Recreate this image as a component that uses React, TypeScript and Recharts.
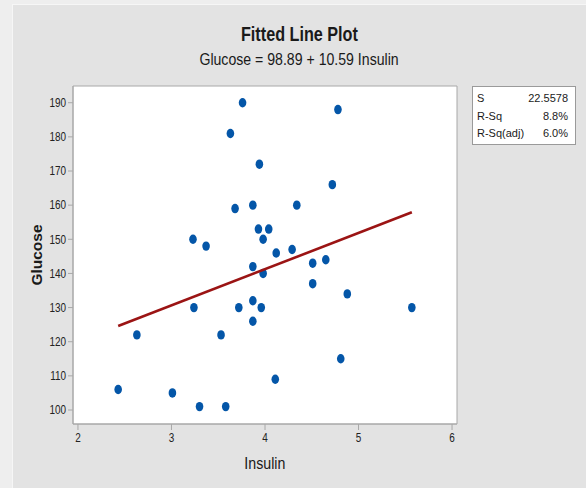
import React from "react";
import {
  ScatterChart,
  Scatter,
  XAxis,
  YAxis,
  CartesianGrid,
  ReferenceArea,
} from "recharts";

const insulin = [
  2.43, 2.63, 3.01, 3.23, 3.24, 3.3, 3.37, 3.53, 3.58, 3.63, 3.68, 3.72, 3.76,
  3.87, 3.87, 3.87, 3.87, 3.93, 3.94, 3.96, 3.98, 3.98, 4.04, 4.12, 4.11, 4.29,
  4.34, 4.51, 4.51, 4.65, 4.72, 4.78, 4.81, 4.88, 5.57,
];
const glucose = [
  106, 122, 105, 150, 130, 101, 148, 122, 101, 181, 159, 130, 190, 160, 142,
  132, 126, 153, 172, 130, 140, 150, 153, 146, 109, 147, 160, 143, 137, 144,
  166, 188, 115, 134, 130,
];

// fitted line end points
const fitX = [2.43, 5.57];
const fitY = [124.6, 157.9];

const xTicks = [2, 3, 4, 5, 6];
const yTicks = [100, 110, 120, 130, 140, 150, 160, 170, 180, 190];
const xDomain = [1.947, 6.053];
const yDomain = [95.9, 194.9];

const stats = [
  ["S", "22.5578"],
  ["R-Sq", "8.8%"],
  ["R-Sq(adj)", "6.0%"],
];

const FONT = "'Liberation Sans', Arial, sans-serif";
const SQUEEZE = 0.83; // no narrow font installed, so squash horizontally

const points = insulin.map((x, i) => ({ x, y: glucose[i] }));
const fitLine = fitX.map((x, i) => ({ x, y: fitY[i] }));

const Dot = (props: any) => {
  const { cx, cy } = props;
  if (cx == null || cy == null) return <g />;
  return <ellipse cx={cx} cy={cy} rx={3.8} ry={4.7} fill="#0456a8" />;
};

const YTick = ({ x, y, payload }: any) => (
  <text
    transform={`translate(${x},${y}) scale(${SQUEEZE},1)`}
    textAnchor="end"
    dy="0.36em"
    fontSize={12}
    fontFamily={FONT}
    fill="#222"
  >
    {payload.value}
  </text>
);

const XTick = ({ x, y, payload }: any) => (
  <text
    transform={`translate(${x},${y}) scale(${SQUEEZE},1)`}
    textAnchor="middle"
    dy={10}
    fontSize={12}
    fontFamily={FONT}
    fill="#222"
  >
    {payload.value}
  </text>
);

const Squeezed = ({ children, k = SQUEEZE }: any) => (
  <span
    style={{
      display: "inline-block",
      transform: `scaleX(${k})`,
      transformOrigin: "center",
      whiteSpace: "nowrap",
    }}
  >
    {children}
  </span>
);

const App = () => {
  return (
    <div
      style={{
        position: "absolute",
        left: 0,
        top: 0,
        width: 586,
        height: 488,
        background: "#eeeeee",
        overflow: "hidden",
      }}
    >
      <div
        style={{
          position: "absolute",
          left: 12,
          top: 4,
          width: 574,
          height: 484,
          background: "#e3e3e3",
          borderLeft: "1px solid #f6f6f6",
          borderTop: "1px solid #f6f6f6",
        }}
      />
      <div
        style={{
          position: "absolute",
          left: 12,
          width: 574,
          top: 23,
          lineHeight: "22px",
          textAlign: "center",
          fontFamily: FONT,
          fontWeight: 700,
          fontSize: 19.5,
          color: "#1a1a1a",
        }}
      >
        <Squeezed>Fitted Line Plot</Squeezed>
      </div>
      <div
        style={{
          position: "absolute",
          left: 12,
          width: 574,
          top: 50,
          lineHeight: "20px",
          textAlign: "center",
          fontFamily: FONT,
          fontSize: 17,
          color: "#1a1a1a",
        }}
      >
        <Squeezed>Glucose = 98.89 + 10.59 Insulin</Squeezed>
      </div>
      <div style={{ position: "absolute", left: 0, top: 0 }}>
        <ScatterChart
          width={586}
          height={488}
          margin={{ top: 86, right: 129, bottom: 34, left: 33 }}
        >
          <CartesianGrid fill="#ffffff" horizontal={false} vertical={false} />
          <XAxis
            type="number"
            dataKey="x"
            domain={xDomain}
            ticks={xTicks}
            allowDataOverflow
            height={30}
            stroke="#a8a8a8"
            tickSize={6}
            tick={<XTick />}
            interval={0}
          />
          <YAxis
            type="number"
            dataKey="y"
            domain={yDomain}
            ticks={yTicks}
            allowDataOverflow
            width={40}
            stroke="#a8a8a8"
            tickSize={5}
            tick={<YTick />}
            interval={0}
          />
          <ReferenceArea
            x1={xDomain[0]}
            x2={xDomain[1]}
            y1={yDomain[0]}
            y2={yDomain[1]}
            fill="none"
            stroke="#a8a8a8"
            strokeWidth={1}
            ifOverflow="visible"
          />
          <Scatter
            data={points}
            shape={<Dot />}
            isAnimationActive={false}
          />
          <Scatter
            data={fitLine}
            line={{ stroke: "#9b1414", strokeWidth: 2.6 }}
            shape={() => <g />}
            isAnimationActive={false}
          />
        </ScatterChart>
      </div>
      <div
        style={{
          position: "absolute",
          left: 0,
          width: 530,
          top: 453,
          lineHeight: "20px",
          textAlign: "center",
          fontFamily: FONT,
          fontSize: 16.5,
          color: "#1a1a1a",
        }}
      >
        <Squeezed k={0.86}>Insulin</Squeezed>
      </div>
      <div
        style={{
          position: "absolute",
          left: 37,
          top: 255,
          transform: "translate(-50%, -50%) rotate(-90deg)",
          fontFamily: FONT,
          fontWeight: 700,
          fontSize: 15.5,
          color: "#1a1a1a",
          whiteSpace: "nowrap",
        }}
      >
        Glucose
      </div>
      <div
        style={{
          position: "absolute",
          left: 472,
          top: 86,
          width: 104,
          height: 59,
          background: "#ffffff",
          border: "1px solid #9a9a9a",
          fontFamily: FONT,
          fontSize: 11,
          color: "#1a1a1a",
          paddingTop: 3,
          boxSizing: "border-box",
        }}
      >
        {stats.map(([k, v]) => (
          <div
            key={k}
            style={{
              display: "flex",
              justifyContent: "space-between",
              padding: "0 7px 0 4px",
              lineHeight: "17.5px",
            }}
          >
            <span>{k}</span>
            <span>{v}</span>
          </div>
        ))}
      </div>
    </div>
  );
};

export default App;
